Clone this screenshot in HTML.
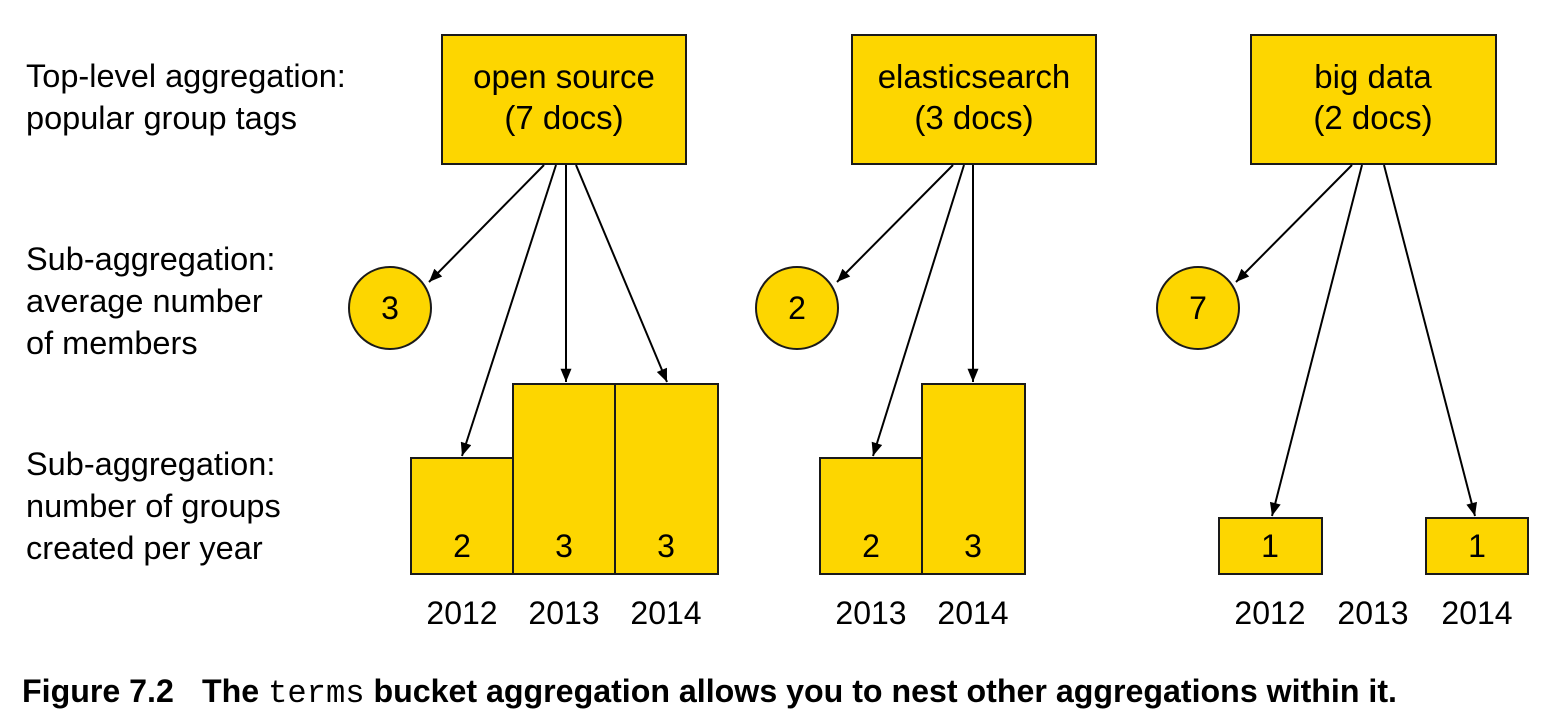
<!DOCTYPE html>
<html><head><meta charset="utf-8"><style>
html,body{margin:0;padding:0;background:#fff;width:1556px;height:724px;overflow:hidden}
svg{display:block}
text{font-family:"Liberation Sans",Arial,sans-serif;fill:#000}
</style></head><body>
<svg width="1556" height="724" viewBox="0 0 1556 724" xmlns="http://www.w3.org/2000/svg">
<defs>
<marker id="b" viewBox="0 0 12 10" refX="12" refY="5" markerWidth="14" markerHeight="11" markerUnits="userSpaceOnUse" orient="auto">
<path d="M0,0 L12,5 L0,10 z" fill="#000"/>
</marker>
</defs>
<g font-size="32.5">
<text x="26" y="87">Top-level aggregation:</text>
<text x="26" y="129">popular group tags</text>
<text x="26" y="270">Sub-aggregation:</text>
<text x="26" y="312">average number</text>
<text x="26" y="354">of members</text>
<text x="26" y="475">Sub-aggregation:</text>
<text x="26" y="517">number of groups</text>
<text x="26" y="559">created per year</text>
</g>
<g fill="#FDD600" stroke="#1a1a1a" stroke-width="2">
<rect x="442" y="35" width="244" height="129"/>
<rect x="852" y="35" width="244" height="129"/>
<rect x="1251" y="35" width="245" height="129"/>
<circle cx="390" cy="308" r="41"/>
<circle cx="797" cy="308" r="41"/>
<circle cx="1198" cy="308" r="41"/>
<rect x="411" y="458" width="102" height="116"/>
<rect x="513" y="384" width="102" height="190"/>
<rect x="615" y="384" width="103" height="190"/>
<rect x="820" y="458" width="102" height="116"/>
<rect x="922" y="384" width="103" height="190"/>
<rect x="1219" y="518" width="103" height="56"/>
<rect x="1426" y="518" width="102" height="56"/>
</g>
<g font-size="33" text-anchor="middle">
<text x="564" y="88">open source</text><text x="564" y="129">(7 docs)</text>
<text x="974" y="88">elasticsearch</text><text x="974" y="129">(3 docs)</text>
<text x="1373" y="88">big data</text><text x="1373" y="129">(2 docs)</text>
</g>
<g font-size="32" text-anchor="middle">
<text x="390" y="319">3</text><text x="797" y="319">2</text><text x="1198" y="319">7</text>
<text x="462" y="557">2</text><text x="564" y="557">3</text><text x="666" y="557">3</text>
<text x="871" y="557">2</text><text x="973" y="557">3</text>
<text x="1270" y="557">1</text><text x="1477" y="557">1</text>
<text x="462" y="624">2012</text><text x="564" y="624">2013</text><text x="666" y="624">2014</text>
<text x="871" y="624">2013</text><text x="973" y="624">2014</text>
<text x="1270" y="624">2012</text><text x="1373" y="624">2013</text><text x="1477" y="624">2014</text>
</g>
<g stroke="#000" stroke-width="2" fill="none" marker-end="url(#b)">
<line x1="544" y1="165" x2="429" y2="282"/>
<line x1="556" y1="165" x2="462" y2="456"/>
<line x1="566" y1="165" x2="566" y2="382"/>
<line x1="576" y1="165" x2="667" y2="382"/>
<line x1="953" y1="165" x2="837" y2="282"/>
<line x1="964" y1="165" x2="873" y2="456"/>
<line x1="973" y1="165" x2="973" y2="382"/>
<line x1="1352" y1="165" x2="1236" y2="282"/>
<line x1="1362" y1="165" x2="1272" y2="516"/>
<line x1="1384" y1="165" x2="1475" y2="516"/>
</g>
<text x="22" y="702" font-size="32" font-weight="bold" textLength="1375" lengthAdjust="spacingAndGlyphs">Figure 7.2<tspan dx="28">The </tspan><tspan font-family="Liberation Mono" font-weight="normal">terms</tspan> bucket aggregation allows you to nest other aggregations within it.</text>
</svg>
</body></html>
